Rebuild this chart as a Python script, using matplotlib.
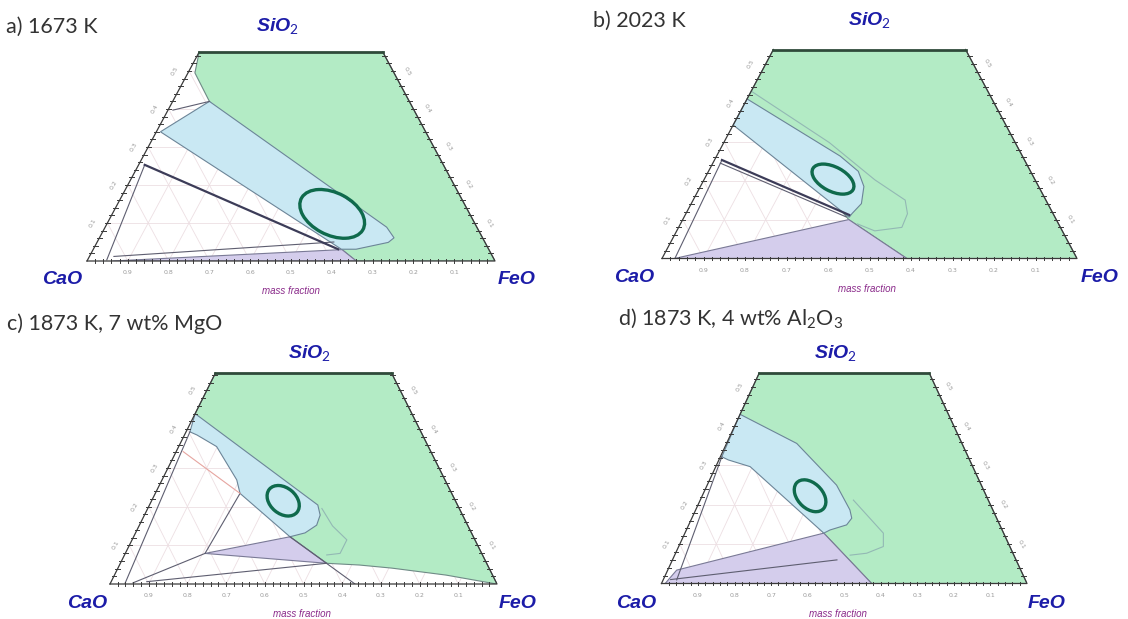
import numpy as np
import matplotlib.pyplot as plt
from matplotlib.patches import Polygon, Ellipse

plt.rcParams['mathtext.fontset'] = 'custom'
plt.rcParams['mathtext.rm'] = 'Lato'

# panel titles and SiO2 truncation of each diagram
titles = ["a) 1673 K", "b) 2023 K", "c) 1873 K, 7 wt% MgO", "d) 1873 K, 4 wt% Al$_2$O$_3$"]
top_sio2 = [0.55, 0.537, 0.545, 0.535]

# phase regions as (FeO, SiO2) mass fractions
green_a = [(0.0, 0.55), (0.45, 0.55), (1.0, 0.0), (0.66, 0.0), (0.61, 0.03), (0.09, 0.42), (0.017, 0.495)]
blue_a = [(0.01, 0.34), (0.09, 0.42), (0.69, 0.089), (0.722, 0.061), (0.714, 0.049), (0.644, 0.031), (0.608, 0.031)]
purple_a = [(0.062, 0.0), (0.66, 0.0), (0.61, 0.03)]
lines_a = [[(0.047, 0.003), (0.015, 0.253)], [(0.09, 0.42), (0.012, 0.397)], [(0.06, 0.012), (0.58, 0.05)]]
thick_a = [(0.015, 0.253), (0.60, 0.031)]
faint_a = []

green_b = [(0.0, 0.537), (0.463, 0.537), (1.0, 0.0), (0.59, 0.0), (0.40, 0.10), (0.0, 0.41)]
blue_b = [(0.0, 0.343), (0.0, 0.41), (0.298, 0.263), (0.361, 0.224), (0.394, 0.185), (0.41, 0.141),
          (0.40, 0.115), (0.398, 0.106)]
purple_b = [(0.03, 0.0), (0.40, 0.10), (0.59, 0.0)]
lines_b = [[(0.031, 0.0), (0.018, 0.253)], [(0.018, 0.245), (0.39, 0.107)]]
thick_b = [(0.018, 0.253), (0.395, 0.112)]
faint_b = [(0.0, 0.43), (0.254, 0.298), (0.412, 0.202), (0.511, 0.150), (0.534, 0.115), (0.538, 0.080),
           (0.477, 0.071), (0.426, 0.089)]

green_c = [(0.0, 0.545), (0.455, 0.545), (1.0, 0.0), (0.98, 0.003), (0.857, 0.023), (0.708, 0.041),
           (0.62, 0.049), (0.533, 0.0535), (0.404, 0.122), (0.0, 0.44)]
blue_c = [(0.0, 0.44), (0.435, 0.204), (0.454, 0.178), (0.458, 0.152), (0.438, 0.132), (0.404, 0.122),
          (0.219, 0.234), (0.193, 0.269), (0.098, 0.355), (0.032, 0.385), (0.01, 0.393)]
purple_c = [(0.206, 0.079), (0.404, 0.122), (0.533, 0.0535), (0.372, 0.066)]
lines_c = [[(0.404, 0.122), (0.633, 0.0)], [(0.219, 0.234), (0.206, 0.079)], [(0.206, 0.079), (0.058, 0.003)],
           [(0.092, 0.006), (0.533, 0.0535)], [(0.038, 0.002), (0.01, 0.393)]]
thick_c = []
faint_c = [(0.45, 0.195), (0.50, 0.15), (0.555, 0.114), (0.555, 0.079), (0.5225, 0.075)]
red_c = [(0.018, 0.342), (0.219, 0.234)]

green_d = [(0.0, 0.535), (0.465, 0.535), (1.0, 0.0), (0.575, 0.0), (0.38, 0.128), (0.0, 0.43)]
blue_d = [(0.0, 0.43), (0.192, 0.356), (0.354, 0.25), (0.422, 0.187), (0.4375, 0.166), (0.432, 0.149),
          (0.393, 0.136), (0.38, 0.128), (0.094, 0.297), (0.026, 0.314), (0.004, 0.322)]
purple_d = [(0.0245, 0.034), (0.38, 0.128), (0.575, 0.0), (0.01, 0.0)]
lines_d = [[(0.037, 0.009), (0.004, 0.322)], [(0.02, 0.01), (0.45, 0.06)]]
thick_d = []
faint_d = [(0.419, 0.212), (0.543, 0.128), (0.56, 0.094), (0.523, 0.077), (0.48, 0.072)]

# slag composition ellipse: centre (FeO, SiO2), width, height, angle
ellipse_c = [(0.539, 0.124), (0.310, 0.204), (0.340, 0.215), (0.295, 0.223)]
ellipse_w = [0.172, 0.111, 0.093, 0.0985]
ellipse_h = [0.11, 0.062, 0.067, 0.066]
ellipse_ang = [-30, -30, -40, -40]

greens = [green_a, green_b, green_c, green_d]
blues = [blue_a, blue_b, blue_c, blue_d]
purples = [purple_a, purple_b, purple_c, purple_d]
lines = [lines_a, lines_b, lines_c, lines_d]
thicks = [thick_a, thick_b, thick_c, thick_d]
faints = [faint_a, faint_b, faint_c, faint_d]

# panel boxes in pixels: x CaO corner, x FeO corner, y bottom, y top
boxes = [(87, 495, 261, 52), (662, 1077, 258.5, 49.5), (110, 497, 584, 373), (661.5, 1027, 583.5, 373)]
title_pos = [(6, 27), (593, 21), (7, 324), (618, 319)]
sio2_pos = [(277, 27), (869, 21), (309, 354), (835, 354)]
cao_pos = [(62, 279), (634, 278), (87, 603), (636, 604)]
feo_pos = [(517, 279), (1100, 278), (518, 603), (1047, 603)]
mf_pos = [(291, 291), (867, 289), (302, 614), (838, 614)]

W, H = 1128, 619
fig = plt.figure(figsize=(W / 100, H / 100), dpi=100)


def cart(pts):
    a = np.array(pts, dtype=float)
    return np.column_stack([a[:, 0] + a[:, 1] / 2, a[:, 1]])


def ftext(x, y, s, **kw):
    fig.text(x / W, 1 - y / H, s, **kw)


label_kw = dict(color='#1c1ca8', fontweight='bold', style='italic', family='Liberation Sans',
                fontsize=14, ha='center', va='center')

for i in range(4):
    x0, x1, yb, yt = boxes[i]
    T = top_sio2[i]
    ax = fig.add_axes([x0 / W, 1 - yb / H, (x1 - x0) / W, (yb - yt) / H])
    ax.set_xlim(0, 1)
    ax.set_ylim(0, T)
    ax.axis('off')

    # light ternary grid
    for g in np.arange(0.1, 1.0, 0.1):
        if g < T:
            ax.plot([g / 2, 1 - g / 2], [g, g], color='#eddfe3', lw=0.6, zorder=1)
        smax = min(T, 1 - g)
        ax.plot([g, g + smax / 2], [0, smax], color='#eddfe3', lw=0.6, zorder=1)
        ax.plot([1 - g, 1 - g - smax / 2], [0, smax], color='#eddfe3', lw=0.6, zorder=1)

    ax.add_patch(Polygon(cart(greens[i]), closed=True, fc='#b3ebc5', ec='#6f8a86', lw=0.8, zorder=2))
    ax.add_patch(Polygon(cart(purples[i]), closed=True, fc='#d4cdec', ec='#7a7a96', lw=0.8, zorder=2))
    ax.add_patch(Polygon(cart(blues[i]), closed=True, fc='#c9e8f3', ec='#6c8598', lw=0.8, zorder=3))

    if faints[i]:
        f = cart(faints[i])
        ax.plot(f[:, 0], f[:, 1], color='#93b8b4', lw=0.8, zorder=3.5)
    for ln in lines[i]:
        p = cart(ln)
        ax.plot(p[:, 0], p[:, 1], color='#5e5e70', lw=0.8, zorder=4)
    if thicks[i]:
        p = cart(thicks[i])
        ax.plot(p[:, 0], p[:, 1], color='#3c3c58', lw=1.6, zorder=4)
    if i == 2:
        p = cart(red_c)
        ax.plot(p[:, 0], p[:, 1], color='#e6a5a0', lw=0.8, zorder=4)

    c = cart([ellipse_c[i]])[0]
    ax.add_patch(Ellipse(c, ellipse_w[i], ellipse_h[i], angle=ellipse_ang[i], fill=False,
                         ec='#0f6a4c', lw=2.4, zorder=5))

    # frame of the truncated triangle
    ax.plot([0, 1, 1 - T / 2], [0, 0, T], color='#3a3a3a', lw=0.9, zorder=6, clip_on=False)
    ax.plot([T / 2, 0], [T, 0], color='#3a3a3a', lw=0.9, zorder=6, clip_on=False)
    ax.plot([T / 2, 1 - T / 2], [T, T], color='#2f4a3a', lw=2.0, zorder=6, clip_on=False)

    # edge ticks
    for u in np.arange(0.02, 0.99, 0.02):
        ax.plot([u, u], [-0.004, 0.005], color='#3a3a3a', lw=0.7, zorder=6, clip_on=False)
    for s in np.arange(0.02, T, 0.02):
        ax.plot([s / 2 - 0.006, s / 2 + 0.006], [s, s], color='#3a3a3a', lw=0.7, zorder=6, clip_on=False)
        ax.plot([1 - s / 2 - 0.006, 1 - s / 2 + 0.006], [s, s], color='#3a3a3a', lw=0.7, zorder=6,
                clip_on=False)

    # tick labels
    for k in range(1, 10):
        u = k / 10
        ax.text(u, -0.03, f"{1 - u:.1f}", fontsize=4.5, color='#9a9a9a', ha='center', va='center',
                clip_on=False)
    for k in range(1, 6):
        s = k / 10
        if s < T:
            ax.text(s / 2 - 0.035, s, f"{s:.1f}", fontsize=4.5, color='#9a9a9a', rotation=60,
                    ha='center', va='center', clip_on=False)
            ax.text(1 - s / 2 + 0.035, s, f"{s:.1f}", fontsize=4.5, color='#9a9a9a', rotation=-60,
                    ha='center', va='center', clip_on=False)

    ftext(*title_pos[i], titles[i], family='Lato', fontsize=15.5, color='#333333', ha='left', va='center')
    ftext(*sio2_pos[i], "SiO$_2$", **label_kw)
    ftext(*cao_pos[i], "CaO", **label_kw)
    ftext(*feo_pos[i], "FeO", **label_kw)
    ftext(*mf_pos[i], "mass fraction", family='Liberation Sans', style='italic', fontsize=7,
          color='#8a2a8a', ha='center', va='center')

fig.savefig('out.png', dpi=100)
